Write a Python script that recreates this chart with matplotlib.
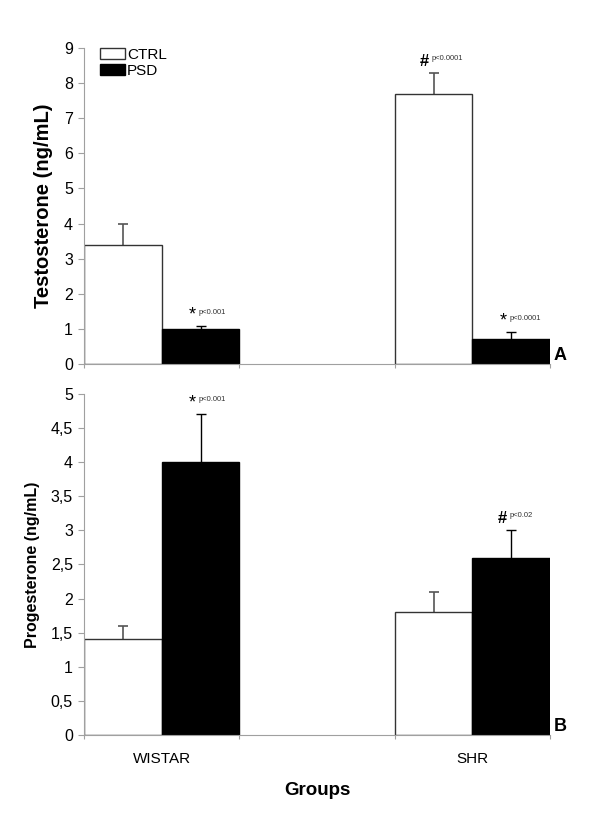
import numpy as np
import matplotlib.pyplot as plt

plt.rcParams['font.family'] = ['Liberation Sans', 'DejaVu Sans']

groups = ['WISTAR', 'SHR']
series = ['CTRL', 'PSD']

# testosterone (ng/mL)
testo_ctrl = [3.4, 7.7]
testo_ctrl_err = [0.6, 0.6]
testo_psd = [1.0, 0.7]
testo_psd_err = [0.08, 0.2]

# progesterone (ng/mL)
prog_ctrl = [1.4, 1.8]
prog_ctrl_err = [0.2, 0.3]
prog_psd = [4.0, 2.6]
prog_psd_err = [0.7, 0.4]

# significance marks: (group index, symbol, p text, bar)
testo_marks = [(0, '*', 'p<0.001', 'psd'), (1, '#', 'p<0.0001', 'ctrl'), (1, '*', 'p<0.0001', 'psd')]
prog_marks = [(0, '*', 'p<0.001', 'psd'), (1, '#', 'p<0.02', 'psd')]

w = 0.25
x = np.arange(len(groups))
spine_col = '#a0a0a0'

fig = plt.figure(figsize=(6, 8.15), dpi=100)
ax1 = fig.add_axes([0.14, 0.5534, 0.7767, 0.3877])
ax2 = fig.add_axes([0.14, 0.0982, 0.7767, 0.4184])


def upper_err(ax, xs, ys, errs, col, lw):
    _, caps, _ = ax.errorbar(xs, ys, yerr=[np.zeros(len(ys)), errs], fmt='none',
                             ecolor=col, elinewidth=lw, capsize=3.5, capthick=lw, zorder=1)
    # only the upper cap is wanted
    caps[0].set_visible(False)


def draw(ax, ctrl, ctrl_err, psd, psd_err, marks, ymax, step, fmt, ylabel, ylsize, panel):
    ax.bar(x - w / 2, ctrl, w, color='white', edgecolor='#333333', linewidth=1.0,
           label=series[0], zorder=2)
    ax.bar(x + w / 2, psd, w, color='black', edgecolor='black', linewidth=1.0,
           label=series[1], zorder=2)
    upper_err(ax, x - w / 2, ctrl, ctrl_err, '#555555', 1.2)
    upper_err(ax, x + w / 2, psd, psd_err, 'black', 1.0)
    for g, sym, ptxt, which in marks:
        if which == 'ctrl':
            xc, top = x[g] - w / 2, ctrl[g] + ctrl_err[g]
        else:
            xc, top = x[g] + w / 2, psd[g] + psd_err[g]
        off = ymax * 0.035
        ax.text(xc - 0.015, top + off, sym, ha='right', va='center',
                fontsize=13 if sym == '*' else 12, fontweight='bold' if sym == '#' else 'normal')
        ax.text(xc - 0.005, top + off * 1.25, ptxt, ha='left', va='center', fontsize=5.5,
                color='#333333')
    ax.set_xlim(-w, 1 + w)
    ax.set_ylim(0, ymax)
    ticks = np.arange(0, ymax + step / 2, step)
    ax.set_yticks(ticks)
    ax.set_yticklabels([fmt(t) for t in ticks], fontsize=11.5)
    ax.set_ylabel(ylabel, fontsize=ylsize, fontweight='bold', labelpad=8)
    for s in ['top', 'right']:
        ax.spines[s].set_visible(False)
    for s in ['left', 'bottom']:
        ax.spines[s].set_color(spine_col)
        ax.spines[s].set_linewidth(0.8)
    ax.tick_params(axis='y', color=spine_col, length=4, width=0.8, pad=4)
    ax.set_xticks([-w, w, 1 - w, 1 + w], minor=True)
    ax.tick_params(axis='x', which='minor', color=spine_col, length=3, width=0.8)
    ax.tick_params(axis='x', which='major', length=0)
    ax.text(1 + w + 0.012, 0, panel, ha='left', va='bottom', fontsize=13, fontweight='bold')


draw(ax1, testo_ctrl, testo_ctrl_err, testo_psd, testo_psd_err, testo_marks, 9, 1,
     lambda t: '%d' % t, 'Testosterone (ng/mL)', 14.5, 'A')
draw(ax2, prog_ctrl, prog_ctrl_err, prog_psd, prog_psd_err, prog_marks, 5, 0.5,
     lambda t: ('%g' % t).replace('.', ','), 'Progesterone (ng/mL)', 11.5, 'B')

ax1.set_xticks(x)
ax1.set_xticklabels(['', ''])
ax2.set_xticks(x)
ax2.set_xticklabels(groups, fontsize=11)
ax2.tick_params(axis='x', which='major', pad=12)
ax2.set_xlabel('Groups', fontsize=13.5, fontweight='bold', labelpad=12)

ax1.legend(loc='upper left', bbox_to_anchor=(0.035, 1.0), frameon=False, fontsize=11,
           handlelength=1.6, handleheight=0.75, handletextpad=0.15, labelspacing=0.1,
           borderpad=0, borderaxespad=0)

fig.savefig('out.png', dpi=100)
